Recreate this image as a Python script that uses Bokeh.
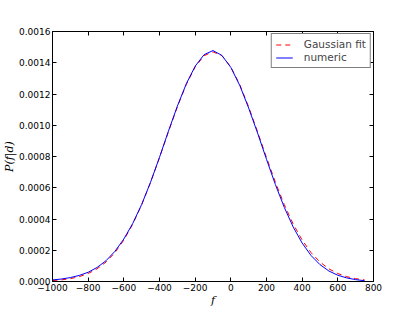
from bokeh.plotting import figure
from bokeh.models import Range1d, LinearAxis, FixedTicker, PrintfTickFormatter, Legend, LegendItem
from bokeh.embed import file_html
from bokeh.resources import INLINE

f_vals = [-1000, -950, -900, -850, -800, -750, -700, -650, -600, -550, -500, -450,
          -400, -350, -300, -250, -200, -150, -100, -50, 0, 50, 100, 150, 200, 250,
          300, 350, 400, 450, 500, 550, 600, 650, 700, 750]
gauss_fit = [5.7e-6, 1.04e-5, 1.82e-5, 3.1e-5, 5.1e-5, 8.1e-5, 1.245e-4, 1.846e-4,
             2.65e-4, 3.67e-4, 4.91e-4, 6.35e-4, 7.93e-4, 9.58e-4, 1.117e-3, 1.260e-3,
             1.373e-3, 1.445e-3, 1.470e-3, 1.445e-3, 1.373e-3, 1.260e-3, 1.117e-3,
             9.58e-4, 7.93e-4, 6.35e-4, 4.91e-4, 3.67e-4, 2.65e-4, 1.846e-4, 1.245e-4,
             8.1e-5, 5.1e-5, 3.1e-5, 1.82e-5, 1.04e-5]
numeric = [1.0e-5, 1.6e-5, 2.5e-5, 3.9e-5, 5.9e-5, 9.0e-5, 1.33e-4, 1.93e-4, 2.72e-4,
           3.72e-4, 4.93e-4, 6.36e-4, 7.95e-4, 9.62e-4, 1.122e-3, 1.265e-3, 1.378e-3,
           1.452e-3, 1.478e-3, 1.447e-3, 1.370e-3, 1.255e-3, 1.110e-3, 9.50e-4, 7.82e-4,
           6.20e-4, 4.74e-4, 3.48e-4, 2.46e-4, 1.66e-4, 1.08e-4, 6.7e-5, 4.0e-5, 2.3e-5,
           1.2e-5, 5e-6]
x_ticks = [-1000, -800, -600, -400, -200, 0, 200, 400, 600, 800]
y_ticks = [0.0, 0.0002, 0.0004, 0.0006, 0.0008, 0.0010, 0.0012, 0.0014, 0.0016]

FONT = "DejaVu Sans"

p = figure(frame_width=321, frame_height=250, output_backend="svg", toolbar_location=None,
           x_range=Range1d(-1000, 800), y_range=Range1d(0, 0.0016),
           x_axis_label="f", y_axis_label="P(f|d)")
p.min_border_left = 44
p.min_border_top = 31
p.min_border_right = 26
p.min_border_bottom = 20
p.grid.visible = False
p.outline_line_color = "black"
p.outline_line_width = 1
p.background_fill_color = "white"
p.border_fill_color = "white"

xlabels = {v: (str(v).replace("-", "\u2212")) for v in x_ticks}

def style(ax, ticks, show_labels=True):
    ax.ticker = FixedTicker(ticks=ticks)
    ax.major_tick_in = 4
    ax.major_tick_out = 0
    ax.minor_tick_in = 0
    ax.minor_tick_out = 0
    ax.axis_line_color = "black"
    ax.major_tick_line_color = "black"
    ax.major_label_text_font = FONT
    ax.major_label_text_font_size = "9px"
    ax.major_label_text_color = "black"
    ax.major_label_standoff = 2
    if not show_labels:
        ax.major_label_overrides = {v: "" for v in ticks}
        ax.major_label_standoff = 0

style(p.xaxis[0], x_ticks)
p.xaxis[0].major_label_overrides = xlabels
style(p.yaxis[0], y_ticks)
p.yaxis[0].formatter = PrintfTickFormatter(format="%.4f")
for ax in (p.xaxis[0], p.yaxis[0]):
    ax.axis_label_text_font = "DejaVu Serif"
    ax.axis_label_text_font_style = "italic"
    ax.axis_label_text_font_size = "11px"
    ax.axis_label_text_color = "black"
    ax.axis_label_standoff = 0

top = LinearAxis()
style(top, x_ticks, show_labels=False)
p.add_layout(top, "above")
right = LinearAxis()
style(right, y_ticks, show_labels=False)
p.add_layout(right, "right")

r_fit = p.line(f_vals, gauss_fit, line_color="#ff0000", line_width=1, line_dash="5 4")
r_num = p.line(f_vals, numeric, line_color="#0000ff", line_width=1)

legend = Legend(items=[LegendItem(label="Gaussian fit", renderers=[r_fit]),
                       LegendItem(label="numeric", renderers=[r_num])],
                location="top_right")
legend.margin = 2
legend.padding = 4
legend.spacing = 1
legend.label_text_font = FONT
legend.label_text_font_size = "10.5px"
legend.label_height = 11
legend.glyph_height = 11
legend.glyph_width = 17
legend.label_standoff = 11
legend.border_line_color = "black"
legend.border_line_width = 1
legend.background_fill_alpha = 1
p.add_layout(legend)

open("out.html", "w").write(file_html(p, INLINE))
